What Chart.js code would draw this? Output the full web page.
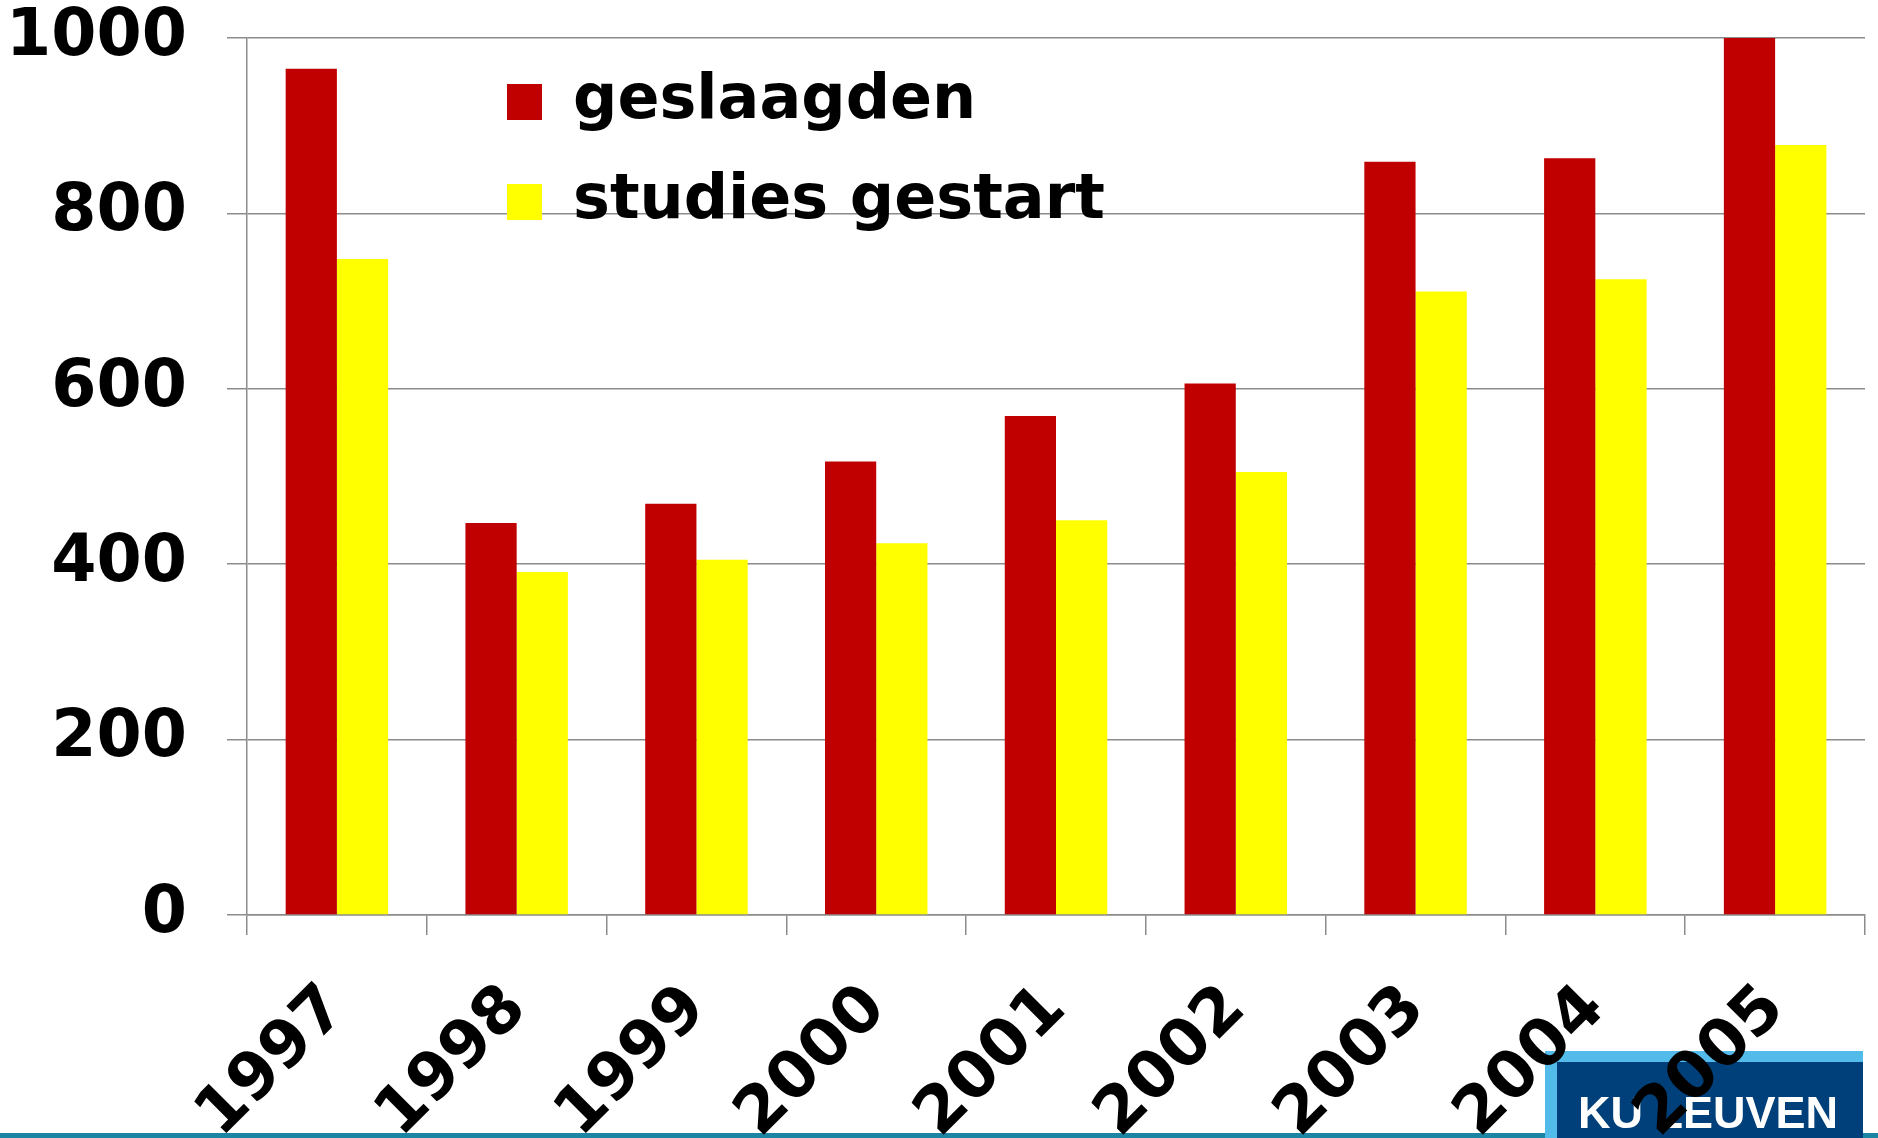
<!DOCTYPE html>
<html>
<head>
<meta charset="utf-8">
<script src="https://cdn.jsdelivr.net/npm/chart.js@4"></script>
<style>
  html, body { margin: 0; padding: 0; background: #fff; }
  #wrap { width: 1878px; height: 1138px; position: relative; }
</style>
</head>
<body>
<div id="wrap"><canvas id="myChart"></canvas></div>
<script>
const years = ['1997', '1998', '1999', '2000', '2001', '2002', '2003', '2004', '2005'];
const geslaagden = [965, 447, 469, 517, 569, 606, 859, 863, 1000];
const studiesGestart = [748, 391, 405, 424, 450, 505, 711, 725, 878];
const yTicks = [0, 200, 400, 600, 800, 1000];

const RED = '#c00000';
const YELLOW = '#ffff00';
const GRID = '#8c8c8c';
const FONT = 'DejaVu Sans';

// KU Leuven badge + teal strip, painted under everything else
const backdrop = {
    id: 'backdrop',
    beforeDraw(chart) {
        const c = chart.ctx;
        c.save();
        c.fillStyle = '#1d85a4';
        c.fillRect(0, 1133, 1878, 5);
        c.fillStyle = '#52bbea';
        c.fillRect(1545, 1051, 318, 87);
        c.fillStyle = '#00407a';
        c.fillRect(1557, 1062, 306, 76);
        c.fillStyle = '#fff';
        c.font = 'bold 45px "Liberation Sans"';
        c.textBaseline = 'alphabetic';
        c.fillText('KU LEUVEN', 1578, 1128);
        c.restore();
    }
};

// put the legend inside the plot, top middle-left
const legendSpot = {
    id: 'legendSpot',
    afterLayout(chart) {
        const lg = chart.legend;
        if (!lg) return;
        lg.left = 469;
        lg.top = 33;
    }
};

const ctx = document.getElementById('myChart');

const data = {
    labels: years,
    datasets: [
        {
            label: 'geslaagden',
            data: geslaagden,
            backgroundColor: RED,
            borderWidth: 0
        },
        {
            label: 'studies gestart',
            data: studiesGestart,
            backgroundColor: YELLOW,
            borderWidth: 0
        }
    ]
};

const config = {
    type: 'bar',
    data: data,
    plugins: [backdrop, legendSpot],
    options: {
        responsive: true,
        maintainAspectRatio: false,
        animation: false,
        layout: { padding: { top: 38, right: 13, left: 0, bottom: 0 } },
        datasets: {
            bar: { categoryPercentage: 0.57, barPercentage: 1.0 }
        },
        scales: {
            x: {
                grid: {
                    offset: true,
                    drawOnChartArea: false,
                    drawTicks: true,
                    tickLength: 20,
                    color: GRID,
                    lineWidth: 1.5
                },
                border: { color: GRID, width: 1.5 },
                ticks: {
                    autoSkip: false,
                    minRotation: 45,
                    maxRotation: 45,
                    padding: 36,
                    color: '#000',
                    font: { family: FONT, size: 65, weight: 'bold' }
                },
                afterFit(scale) { scale.height = 223; }
            },
            y: {
                min: 0,
                max: 1000,
                grid: {
                    color: GRID,
                    lineWidth: 1.5,
                    tickLength: 20,
                    z: -1
                },
                border: { color: GRID, width: 1.5 },
                afterBuildTicks(scale) {
                    scale.ticks = yTicks.map(v => ({ value: v }));
                },
                ticks: {
                    padding: 40,
                    color: '#000',
                    font: { family: FONT, size: 65, weight: 'bold' },
                    callback: v => String(v)
                },
                afterFit(scale) {
                    scale.width = 247;
                    scale.paddingTop = 0;
                    scale.paddingBottom = 0;
                }
            }
        },
        plugins: {
            legend: {
                position: 'chartArea',
                align: 'start',
                labels: {
                    boxWidth: 35,
                    boxHeight: 36,
                    padding: 38,
                    color: '#000',
                    font: { family: FONT, size: 62, weight: 'bold' }
                }
            },
            tooltip: { enabled: false },
            title: { display: false }
        }
    }
};

let chart = new Chart(ctx, config);
</script>
</body>
</html>
